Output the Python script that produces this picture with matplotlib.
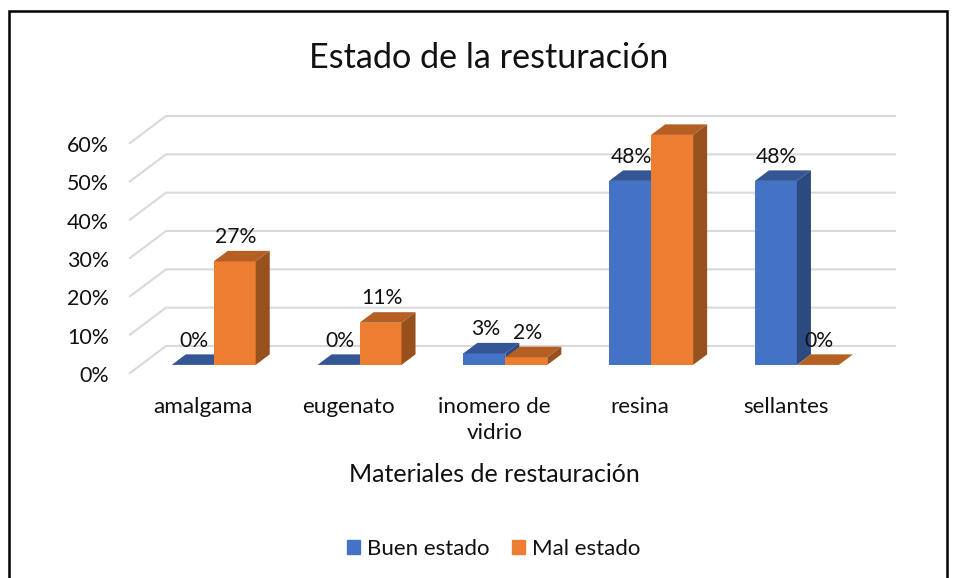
import matplotlib
matplotlib.use("Agg")
import matplotlib.pyplot as plt
from matplotlib.patches import Rectangle

plt.rcParams['font.family'] = ['Lato', 'DejaVu Sans']

categorias = ["amalgama", "eugenato", "inomero de\nvidrio", "resina", "sellantes"]
buen_estado = [0, 0, 3, 48, 48]
mal_estado = [27, 11, 2, 60, 0]
y_ticks = [0, 10, 20, 30, 40, 50, 60]

W, H = 956, 578
fig = plt.figure(figsize=(W / 100, H / 100), dpi=100)
ax = fig.add_axes([130 / W, 1 - 373 / H, 729 / W, 230 / H])
ax.set_xlim(-0.5, 4.5)
ax.set_ylim(0, 60)

# fake 3d: how far the depth of the plot shifts things, in data units
DX = 36 / 145.8
DY = 27 / (230 / 60)
BAR_D0 = 0.3
BAR_D = 0.39
ANCHO = 42 / 145.8


def bar3d(x, val, color, top, side):
    x0 = x + BAR_D0 * DX
    y0 = BAR_D0 * DY
    dx = BAR_D * DX
    dy = BAR_D * DY
    ax.bar(x0, val, ANCHO, bottom=y0, align='edge', color=color, clip_on=False, zorder=3)
    ax.fill([x0, x0 + ANCHO, x0 + ANCHO + dx, x0 + dx],
            [y0 + val, y0 + val, y0 + val + dy, y0 + val + dy],
            color=top, lw=0, clip_on=False, zorder=3)
    if val > 0:
        ax.fill([x0 + ANCHO, x0 + ANCHO + dx, x0 + ANCHO + dx, x0 + ANCHO],
                [y0, y0 + dy, y0 + val + dy, y0 + val],
                color=side, lw=0, clip_on=False, zorder=3)
    ax.annotate(f"{val}%", (x0 + ANCHO / 2, y0 + val), xytext=(0.7, 17.5), textcoords='offset points',
                ha='center', va='center', fontsize=15.2, color='#111111', zorder=5)


# gridlines on the back and side walls
for v in y_ticks:
    ax.plot([-0.5, -0.5 + DX, 4.5 + DX], [v, v + DY, v + DY],
            color='#D9D9D9', lw=1.5, clip_on=False, zorder=1)

for i in range(len(categorias)):
    bar3d(i - ANCHO, buen_estado[i], '#4472C4', '#345695', '#2B4A7F')
    bar3d(i, mal_estado[i], '#ED7D31', '#B55F23', '#96511D')

for s in ax.spines.values():
    s.set_visible(False)
ax.set_xticks(range(len(categorias)))
ax.set_xticklabels(categorias, fontsize=16.2, linespacing=1.42, color='#111111')
ax.set_yticks([])
# y labels sit a little under their gridline start in the original
for v in y_ticks:
    ax.annotate(f"{v}%", (-0.5, v), xytext=(-15, -2.2), textcoords='offset points',
                ha='right', va='center', fontsize=15.4, color='#111111')
ax.tick_params(axis='both', length=0)
ax.tick_params(axis='x', pad=17)
ax.set_xlabel("Materiales de restauración", fontsize=18, color='#111111', labelpad=14.5)

fig.text(489 / W, 1 - 58 / H, "Estado de la resturación", fontsize=24.6, ha='center', va='center', color='#111111')

handles = [Rectangle((0, 0), 1, 1, color='#4472C4'), Rectangle((0, 0), 1, 1, color='#ED7D31')]
fig.legend(handles, ["Buen estado", "Mal estado"], loc='center', bbox_to_anchor=(493.5 / W, 1 - 549 / H),
           ncol=2, frameon=False, fontsize=16, handlelength=0.62, handleheight=0.62,
           handletextpad=0.3, columnspacing=1.0, labelcolor='#111111')

# outer frame of the pasted chart, runs off the bottom of the image
fig.add_artist(Rectangle((9 / W, -0.05), 938 / W, 1.05 - 11 / H, transform=fig.transFigure,
                         fill=False, ec='black', lw=1.8))

fig.savefig("out.png", dpi=100)
